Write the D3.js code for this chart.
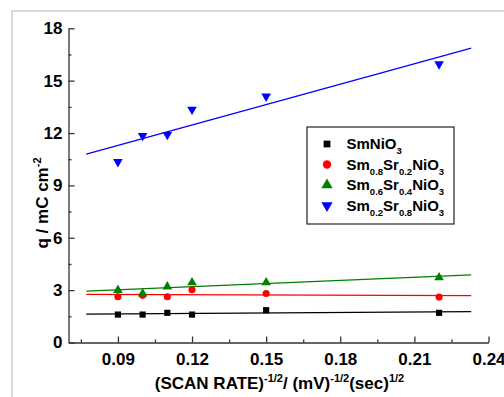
<!DOCTYPE html>
<html><head><meta charset="utf-8">
<script src="https://cdn.jsdelivr.net/npm/d3@7"></script>
<style>
body{margin:0;background:#fff}
svg{display:block;font-family:"Liberation Sans",Arial,sans-serif;font-weight:bold}
</style>
</head><body>
<script>
// ---- data ----
const xValues   = [0.09, 0.10, 0.11, 0.12, 0.15, 0.22];
const smNiO3    = [1.60, 1.60, 1.70, 1.60, 1.85, 1.70];
const sm08sr02  = [2.62, 2.70, 2.62, 3.02, 2.81, 2.60];
const sm06sr04  = [3.00, 2.80, 3.20, 3.44, 3.44, 3.72];
const sm02sr08  = [10.35, 11.85, 11.90, 13.35, 14.10, 15.95];
const fitRange  = [0.0772, 0.233];
const xTicks    = [0.09, 0.12, 0.15, 0.18, 0.21, 0.24];
const xMinor    = [0.075, 0.105, 0.135, 0.165, 0.195, 0.225];
const yTicks    = [0, 3, 6, 9, 12, 15, 18];
const yMinor    = [1.5, 4.5, 7.5, 10.5, 13.5, 16.5];
const seriesLabels = [
  [["SmNiO",""],["3","sub"]],
  [["Sm",""],["0.8","sub"],["Sr",""],["0.2","sub"],["NiO",""],["3","sub"]],
  [["Sm",""],["0.6","sub"],["Sr",""],["0.4","sub"],["NiO",""],["3","sub"]],
  [["Sm",""],["0.2","sub"],["Sr",""],["0.8","sub"],["NiO",""],["3","sub"]]
];
const seriesColors = ["#000000", "#ff0000", "#008000", "#0000ff"];
const seriesSymbols = ["square", "circle", "triUp", "triDown"];
const seriesValues = [smNiO3, sm08sr02, sm06sr04, sm02sr08];

const W = 504, H = 397;
const svg = d3.select("body").append("svg").attr("width", W).attr("height", H);

// outer frame (cut off at right/bottom)
svg.append("rect").attr("x", 12).attr("y", 11).attr("width", 700).attr("height", 700)
  .attr("fill", "none").attr("stroke", "#cccccc").attr("stroke-width", 1.5);

const x = d3.scaleLinear().domain([0.07, 0.24]).range([68.5, 488.5]);
const y = d3.scaleLinear().domain([0, 18]).range([342.5, 28.3]);
const axisColor = "#333";

// axes
svg.append("g").attr("transform", `translate(0,${y(0)})`)
  .call(d3.axisBottom(x).tickValues(xTicks).tickFormat(d3.format(".2f"))
    .tickSizeInner(-6).tickSizeOuter(0).tickPadding(10));
const gxm = svg.append("g").attr("transform", `translate(0,${y(0)})`)
  .call(d3.axisBottom(x).tickValues(xMinor).tickFormat("").tickSizeInner(-3).tickSizeOuter(0));
gxm.select(".domain").remove();

svg.append("g").attr("transform", `translate(${x(0.07)},0)`)
  .call(d3.axisLeft(y).tickValues(yTicks).tickFormat(d3.format("d"))
    .tickSizeInner(-6).tickSizeOuter(0).tickPadding(6));
const gym = svg.append("g").attr("transform", `translate(${x(0.07)},0)`)
  .call(d3.axisLeft(y).tickValues(yMinor).tickFormat("").tickSizeInner(-3).tickSizeOuter(0));
gym.select(".domain").remove();

svg.selectAll(".domain, .tick line").attr("stroke", axisColor).attr("stroke-width", 1.3);
svg.selectAll(".tick text").attr("font-size", 17).attr("font-weight", "bold")
  .attr("font-family", '"Liberation Sans",Arial,sans-serif').attr("fill", "#000");

// rich text with sub/superscripts
function richText(sel, parts, base, small, shift) {
  let offset = 0;
  parts.forEach(p => {
    const want = p[1] === "sup" ? -shift : p[1] === "sub" ? shift : 0;
    sel.append("tspan").text(p[0])
      .attr("font-size", p[1] ? small : base)
      .attr("dy", want - offset);
    offset = want;
  });
}

const xt = svg.append("text").attr("x", (x(0.07) + x(0.24)) / 2 + 1).attr("y", 388.5)
  .attr("text-anchor", "middle").attr("fill", "#000");
richText(xt, [["(SCAN RATE)",""],["-1/2","sup"],["/ (mV)",""],["-1/2","sup"],["(sec)",""],["1/2","sup"]], 17, 11, 7);

const yt = svg.append("text").attr("transform", "translate(47.5,203) rotate(-90)")
  .attr("text-anchor", "middle").attr("fill", "#000");
richText(yt, [["q / mC cm",""],["-2","sup"]], 17, 11, 7);

// fitted lines (least-squares from the data)
function fit(xs, ys) {
  const mx = d3.mean(xs), my = d3.mean(ys);
  let sxy = 0, sxx = 0;
  xs.forEach((v, i) => { sxy += (v - mx) * (ys[i] - my); sxx += (v - mx) * (v - mx); });
  const b = sxy / sxx;
  return t => my + b * (t - mx);
}
seriesValues.forEach((vals, k) => {
  const f = fit(xValues, vals);
  svg.append("line")
    .attr("x1", x(fitRange[0])).attr("y1", y(f(fitRange[0])))
    .attr("x2", x(fitRange[1])).attr("y2", y(f(fitRange[1])))
    .attr("stroke", seriesColors[k]).attr("stroke-width", 1.3);
});

function symbolPath(kind, size) {
  const type = kind === "square" ? d3.symbolSquare : kind === "circle" ? d3.symbolCircle : d3.symbolTriangle;
  return d3.symbol().type(type).size(size)();
}
function drawMarker(g, kind, cx, cy, color, size) {
  const rot = kind === "triDown" ? 180 : 0;
  g.append("path").attr("d", symbolPath(kind, size))
    .attr("transform", `translate(${cx},${cy}) rotate(${rot})`)
    .attr("fill", color);
}

// markers
const sizes = {square: 38, circle: 40, triUp: 40, triDown: 40};
seriesValues.forEach((vals, k) => {
  const g = svg.append("g");
  vals.forEach((v, i) => drawMarker(g, seriesSymbols[k], x(xValues[i]), y(v), seriesColors[k], sizes[seriesSymbols[k]]));
});

// legend
const lg = svg.append("g");
lg.append("rect").attr("x", 307).attr("y", 127).attr("width", 147).attr("height", 97)
  .attr("fill", "#fff").attr("stroke", "#222").attr("stroke-width", 1.2);
const legSizes = {square: 46, circle: 55, triUp: 55, triDown: 55};
seriesLabels.forEach((parts, k) => {
  const base = 149 + k * 20.5;
  drawMarker(lg, seriesSymbols[k], 327, base - 5, seriesColors[k], legSizes[seriesSymbols[k]]);
  const t = lg.append("text").attr("x", 346.5).attr("y", base).attr("fill", "#000");
  richText(t, parts, 15, 9.5, 5);
});
</script>
</body></html>
